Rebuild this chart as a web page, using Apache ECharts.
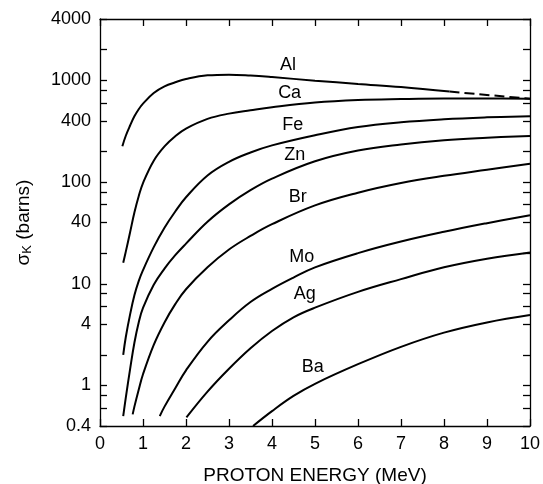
<!DOCTYPE html>
<html><head><meta charset="utf-8">
<script src="https://cdn.jsdelivr.net/npm/echarts@6/dist/echarts.min.js"></script>
<style>html,body{margin:0;padding:0;background:#fff}#c{width:543px;height:484px}</style>
</head><body><div id="c"></div>
<script>
// ---- data (energy in MeV, sigma_K in barns) ----
const xTickLabels = [0,1,2,3,4,5,6,7,8,9,10];
const yLabelValues = [0.4,1,4,10,40,100,400,1000,4000];
const yTickValues = [0.4,0.6,0.8,1,2,4,6,8,10,20,40,60,80,100,200,400,600,800,1000,2000,4000];

const alE = [0.52,0.6,0.7,0.8,0.9,1.0,1.25,1.5,1.75,2.0,2.5,3.0,3.5,4.0,5.0,6.0,7.0,8.13];
const alS = [225,285,359,442,519,589,750,871,955,1028,1117,1135,1112,1074,991,920,859,774];
const alDashE = [8.13,10];
const alDashS = [774,658];

const caE = [0.54,0.6,0.7,0.8,0.9,1.0,1.25,1.5,1.75,2.0,2.5,3.0,3.5,4.0,5.0,6.0,7.0,8.0,9.0,10];
const caS = [16.1,20.7,32.1,50.1,72.4,97.7,162,224,282,335,417,470,507,543,603,638,653,661,661,658];

const feE = [0.54,0.6,0.7,0.8,0.9,1.0,1.25,1.5,1.75,2.0,2.5,3.0,3.5,4.0,5.0,6.0,7.0,8.0,9.0,10];
const feS = [2.0,3.0,5.0,7.7,10.6,13.6,22.9,35.5,51.3,70.8,116,158,195,229,288,347,387,414,432,444];

const znE = [0.54,0.6,0.7,0.8,0.9,1.0,1.25,1.5,1.75,2.0,2.5,3.0,3.5,4.0,5.0,6.0,7.0,8.0,9.0,10];
const znS = [0.50,0.76,1.45,2.63,4.17,5.8,9.8,14.1,19.1,24.8,40.7,60.3,83.2,108,160,204,234,257,272,284];

const brE = [0.76,0.8,0.9,1.0,1.25,1.5,1.75,2.0,2.5,3.0,3.5,4.0,5.0,6.0,7.0,8.0,9.0,10];
const brS = [0.52,0.62,0.91,1.29,2.51,4.17,6.31,8.83,14.5,21.7,29.5,38.5,58.9,78.5,97.7,115,132,151];

const moE = [1.39,1.5,1.75,2.0,2.5,3.0,3.5,4.0,4.5,5.0,6.0,7.0,8.0,9.0,10];
const moS = [0.50,0.62,0.94,1.41,2.69,4.37,6.61,8.9,11.5,14.5,20.0,26.0,32.4,39.4,47.2];

const agE = [2.01,2.5,3.0,3.5,4.0,4.5,5.0,6.0,7.0,8.0,9.0,10];
const agS = [0.485,0.87,1.46,2.32,3.43,4.68,5.82,8.32,11.1,14.5,17.6,20.3];

const baE = [3.56,4.0,4.5,5.0,6.0,7.0,8.0,9.0,10];
const baS = [0.40,0.56,0.79,1.04,1.62,2.4,3.31,4.17,4.93];

const labelNames = ['Al','Ca','Fe','Zn','Br','Mo','Ag','Ba'];
const labelE = [4.37,4.41,4.48,4.53,4.60,4.69,4.76,4.95];
const labelS = [1426,757,360,183,70.8,18.2,7.9,1.52];

// ---- build ----
const FONT = '"Liberation Sans", Arial, Helvetica, sans-serif';
const zip = (a,b) => a.map((v,i)=>[v,b[i]]);
function line(name, e, s, dashed){
  return {
    name, type:'line', data: zip(e,s), showSymbol:false, symbol:'none',
    smooth:0.4, clip:false,
    lineStyle:{color:'#000', width:2, type: dashed ? [10,5] : 'solid'},
    silent:true
  };
}
const axisLine = {show:true, onZero:false, lineStyle:{color:'#000', width:1.3}};
const tick = {show:true, inside:true, length:7, lineStyle:{color:'#000', width:1.3}};
const fmt = v => String(+(+v).toPrecision(3));

const chart = echarts.init(document.getElementById('c'), null, {renderer:'canvas'});
chart.setOption({
  animation:false,
  backgroundColor:'#fff',
  grid:{left:100, right:13, top:19, bottom:58, containLabel:false, outerBoundsMode:'none'},
  xAxis:[
    {type:'value', min:0, max:10, interval:1, position:'bottom',
     axisLine, axisTick:tick, splitLine:{show:false},
     axisLabel:{color:'#000', fontSize:18, fontFamily:FONT, margin:9,
       customValues:xTickLabels, formatter:v=>String(v)},
     name:'PROTON ENERGY (MeV)', nameLocation:'middle', nameGap:40,
     nameTextStyle:{color:'#000', fontSize:19, fontFamily:FONT, verticalAlign:'top'}},
    {type:'value', min:0, max:10, interval:1, position:'top',
     axisLine, axisTick:tick, axisLabel:{show:false}, splitLine:{show:false}}
  ],
  yAxis:[
    {type:'log', logBase:10, min:0.4, max:4000, position:'left',
     axisLine, splitLine:{show:false},
     axisTick:Object.assign({}, tick, {customValues:yTickValues}),
     axisLabel:{color:'#000', fontSize:18, fontFamily:FONT, margin:9,
       customValues:yLabelValues, formatter:fmt},
     name:'{s|σ}{k|K}{s| (barns)}', nameLocation:'middle', nameGap:66, nameRotate:90,
     nameTextStyle:{color:'#000', fontFamily:FONT,
       rich:{s:{fontSize:19, fontFamily:FONT, color:'#000'},
             k:{fontSize:13, fontFamily:FONT, color:'#000', verticalAlign:'bottom', padding:[7,0,0,0]}}}},
    {type:'log', logBase:10, min:0.4, max:4000, position:'right',
     axisLine, splitLine:{show:false},
     axisTick:Object.assign({}, tick, {customValues:yTickValues}),
     axisLabel:{show:false}}
  ],
  series:[
    line('Al', alE, alS, false),
    line('Al-ext', alDashE, alDashS, true),
    line('Ca', caE, caS, false),
    line('Fe', feE, feS, false),
    line('Zn', znE, znS, false),
    line('Br', brE, brS, false),
    line('Mo', moE, moS, false),
    line('Ag', agE, agS, false),
    line('Ba', baE, baS, false),
    {type:'scatter', symbolSize:1, itemStyle:{color:'rgba(0,0,0,0)', opacity:1}, silent:true,
     data: labelNames.map((n,i)=>[labelE[i], labelS[i], n]),
     label:{show:true, position:'inside', formatter:p=>p.value[2], opacity:1,
       textBorderWidth:0, color:'#000', fontSize:18, fontFamily:FONT}}
  ]
});
</script>
</body></html>
